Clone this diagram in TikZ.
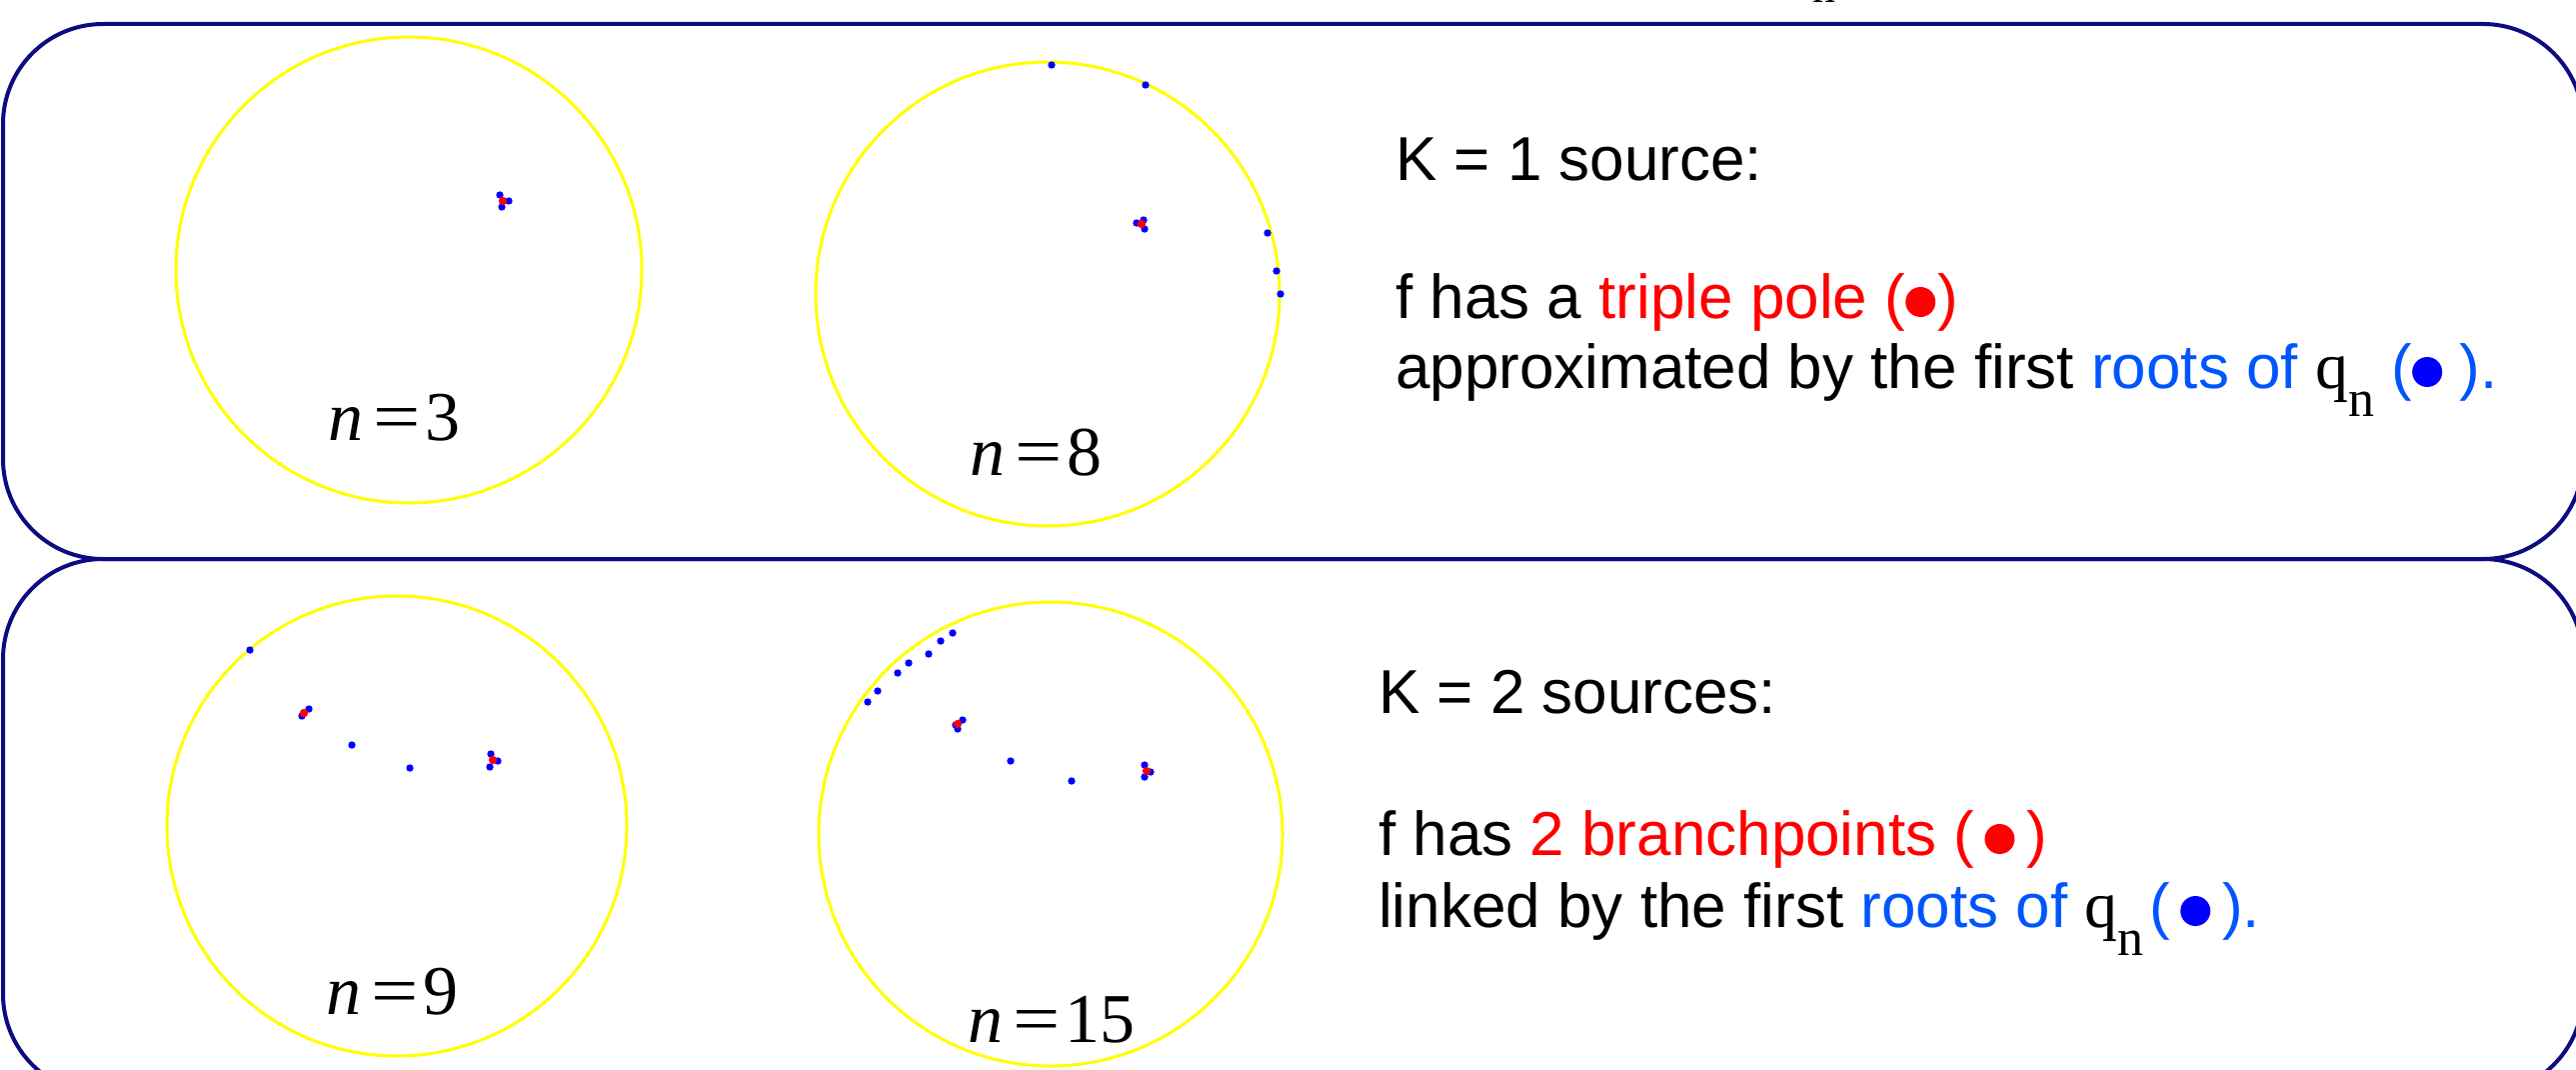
\documentclass[tikz,border=0pt]{standalone}
\usepackage{fontspec}
\usepackage{graphicx}
\setmainfont{Liberation Sans}
\newfontfamily\tnr{Liberation Serif}
\definecolor{navyline}{RGB}{12,12,128}
\definecolor{ylw}{RGB}{255,255,0}
\definecolor{rootblue}{RGB}{0,0,255}
\definecolor{txtblue}{RGB}{0,85,255}
\definecolor{polered}{RGB}{255,0,0}
\newcommand\mydot[1]{\tikz[baseline=0pt]\fill[#1] (15pt,16pt) circle (15pt);}
\newcommand\qsub{{\tnr\fontsize{66}{66}\selectfont q}{\tnr\fontsize{52}{52}\selectfont\raisebox{-28pt}{n}}}
\newcommand\eqsign{\scalebox{1.2}[1]{=}}
\begin{document}
\begin{tikzpicture}[x=1pt,y=-1pt,
  boxline/.style={draw=navyline, line width=4pt, rounded corners=100pt},
  disk/.style={draw=ylw, line width=3pt},
  root/.style={fill=rootblue},
  pole/.style={fill=polered},
  txt/.style={anchor=base west, inner sep=0pt, font=\fontsize{62}{70}\selectfont},
  nlab/.style={anchor=base west, inner sep=0pt, font=\tnr\fontsize{70}{70}\selectfont}]
\useasboundingbox (0,0) rectangle (2577,1070);
\clip (0,0) rectangle (2577,1070);
\fill[white] (0,0) rectangle (2577,1070);

% panels
\draw[boxline] (3,24) rectangle (2584,559);
\draw[boxline] (3,559) rectangle (2584,1094);

% cut-off label at the top edge
\node[anchor=base west, inner sep=0pt, font=\tnr\fontsize{46}{46}\selectfont] (topn) at (1813,3) {n};

% unit circles
\draw[disk] (409,270) circle (233pt);
\draw[disk] (1048,294) circle (232pt);
\draw[disk] (397,826) circle (230pt);
\draw[disk] (1051,834) circle (232pt);

% n = 3
\foreach \p in {(500,195),(509,201),(502,207)} \fill[root] \p circle (3.7pt);
\fill[pole] (503,201) circle (4.2pt);
% n = 8
\foreach \p in {(1052,65),(1146,85),(1268,233),(1277,271),(1281,294),(1137,223),(1144,220),(1145,229)}
  \fill[root] \p circle (3.7pt);
\fill[pole] (1142,224) circle (4.2pt);
% n = 9
\foreach \p in {(250,650),(309,709),(302,716),(352,745),(410,768),(491,754),(498,761),(490,767)}
  \fill[root] \p circle (3.7pt);
\fill[pole] (304,713) circle (4.2pt);
\fill[pole] (493,760) circle (4.2pt);
% n = 15
\foreach \p in {(868,702),(878,691),(898,673),(909,663),(929,654),(941,641),(953,633),
  (956,725),(958,729),(963,720),(1011,761),(1072,781),(1145,765),(1151,772),(1145,777)}
  \fill[root] \p circle (3.7pt);
\fill[pole] (958,724) circle (4.2pt);
\fill[pole] (1147,771) circle (4.2pt);

% n labels
\node[nlab] (n3) at (328,440) {\textit{n}\hspace{10pt}\eqsign\hspace{5pt}3};
\node[nlab] (n8) at (970,475) {\textit{n}\hspace{10pt}\eqsign\hspace{5pt}8};
\node[nlab] (n9) at (326,1014) {\textit{n}\hspace{10pt}\eqsign\hspace{5pt}9};
\node[nlab] (n15) at (968,1042) {\textit{n}\hspace{10pt}\eqsign\hspace{5pt}15};

% texts, top panel
\node[txt] (k1) at (1396,180) {K = 1 source:};
\node[txt] (a1) at (1396,318) {f has a \textcolor{polered}{triple pole (\mydot{polered}\hspace{2pt})}};
\node[txt] (a2) at (1396,388) {approximated by the first \textcolor{txtblue}{roots of} \qsub{} \textcolor{txtblue}{(\mydot{rootblue} ).}};

% texts, bottom panel
\node[txt] (k2) at (1379,713) {K = 2 sources:};
\node[txt] (b1) at (1379,855) {f has \textcolor{polered}{2 branchpoints (\hspace{10pt}\mydot{polered}\hspace{12pt})}};
\node[txt] (b2) at (1379,927) {linked by the first \textcolor{txtblue}{roots of} \qsub\hspace{6pt}\textcolor{txtblue}{(\hspace{10pt}\mydot{rootblue}\hspace{12pt}).}};
\end{tikzpicture}
\end{document}
